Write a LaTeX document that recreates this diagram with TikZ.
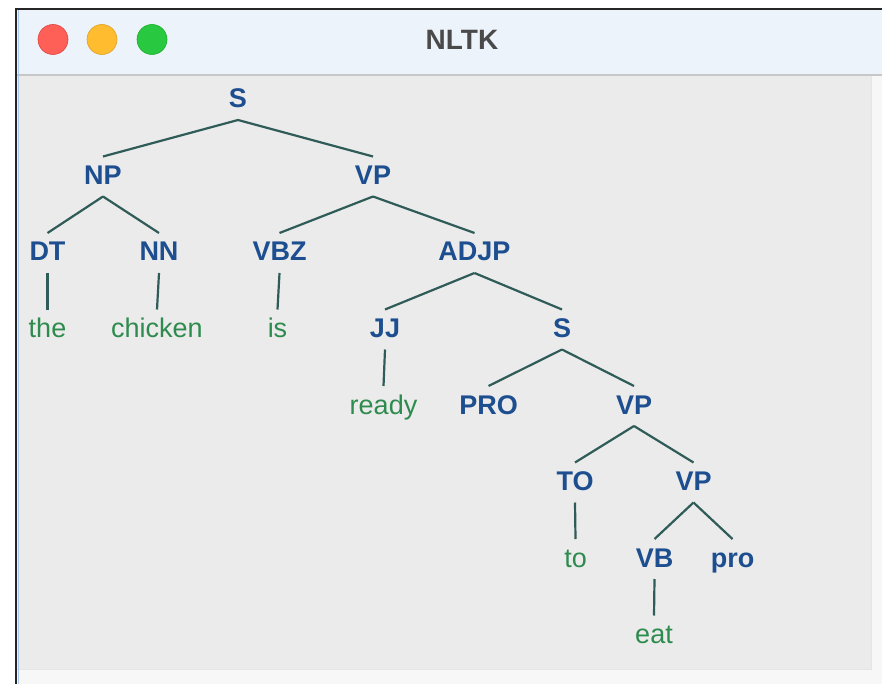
\documentclass[tikz,border=0pt]{standalone}
\usepackage{fontspec}
\setmainfont{Liberation Sans}
\definecolor{catblue}{HTML}{1D4E8F}
\definecolor{wordgreen}{HTML}{2E8B4E}
\definecolor{edgecol}{HTML}{2F5C58}
\definecolor{titlebar}{HTML}{EDF3FB}
\definecolor{canvasgray}{HTML}{EBEBEB}
\definecolor{stripgray}{HTML}{F7F7F7}
\definecolor{titletext}{HTML}{4A4A4A}
\definecolor{edgeblue}{HTML}{A9C9EE}
\begin{document}
\begin{tikzpicture}[x=1pt,y=-1pt,
  cat/.style={font=\fontsize{27}{27}\selectfont\bfseries, text=catblue, inner sep=0pt, anchor=base},
  word/.style={font=\fontsize{27}{27}\selectfont, text=wordgreen, inner sep=0pt, anchor=base},
  branch/.style={draw=edgecol, line width=2.2pt},
  light/.style={circle, minimum size=30pt, inner sep=0pt, line width=0.6pt}]
\useasboundingbox (0,0) rectangle (882,684);
\fill[white] (0,0) rectangle (882,684);

% window: title bar, canvas and scroll strips
\fill[titlebar] (17,9) rectangle (882,75);
\fill[canvasgray] (17,76) rectangle (871,669);
\fill[stripgray] (871,76) rectangle (882,684);
\fill[stripgray] (17,669) rectangle (871,684);
\draw[black!10, line width=0.8pt] (871,76) -- (871,669) -- (17,669);
\draw[black!22, line width=1.5pt] (17,75) -- (882,75);
\draw[black!85, line width=1.8pt] (16,684) -- (16,9) -- (882,9);
\draw[edgeblue, line width=1pt] (18.3,684) -- (18.3,10);

% traffic lights and title
\node[light, fill={rgb,255:red,254;green,95;blue,87}, draw={rgb,255:red,224;green,68;blue,62}] (close) at (53,39.5) {};
\node[light, fill={rgb,255:red,254;green,188;blue,46}, draw={rgb,255:red,222;green,161;blue,35}] (mini) at (102,39.5) {};
\node[light, fill={rgb,255:red,40;green,200;blue,64}, draw={rgb,255:red,29;green,173;blue,43}] (zoom) at (152,39.5) {};
\node[font=\fontsize{28}{28}\selectfont\bfseries, text=titletext, inner sep=0pt] (title) at (462,40) {NLTK};

% tree: categories
\node[cat] (s1)   at (238,108)   {S};
\node[cat] (np)   at (103,184.5) {NP};
\node[cat] (vp1)  at (373,184.5) {VP};
\node[cat] (dt)   at (47.5,261)  {DT};
\node[cat] (nn)   at (159,261)   {NN};
\node[cat] (vbz)  at (279.5,261) {VBZ};
\node[cat] (adjp) at (474.5,261) {ADJP};
\node[cat] (jj)   at (385,337.5) {JJ};
\node[cat] (s2)   at (562,337.5) {S};
\node[cat] (prot) at (488.5,414) {PRO};
\node[cat] (vp2)  at (634,414)   {VP};
\node[cat] (tot)  at (575,490.5) {TO};
\node[cat] (vp3)  at (693.5,490.5) {VP};
\node[cat] (vb)   at (654.5,567) {VB};
\node[cat] (prol) at (732.5,567) {pro};

% tree: words
\node[word] (wthe)     at (47.5,337.5) {the};
\node[word] (wchicken) at (157,337.5)  {chicken};
\node[word] (wis)      at (277.5,337.5) {is};
\node[word] (wready)   at (383.5,414)  {ready};
\node[word] (wto)      at (575.5,567)  {to};
\node[word] (weat)     at (654,643.5)  {eat};

% branches
\foreach \p/\c in {s1/np, s1/vp1, np/dt, np/nn, vp1/vbz, vp1/adjp,
                   adjp/jj, adjp/s2, s2/prot, s2/vp2, vp2/tot, vp2/vp3,
                   vp3/vb, vp3/prol,
                   dt/wthe, nn/wchicken, vbz/wis, jj/wready, tot/wto, vb/weat}
  \draw[branch] ([yshift=-12pt]\p.base) -- ([yshift=28pt]\c.base);
\end{tikzpicture}
\end{document}
